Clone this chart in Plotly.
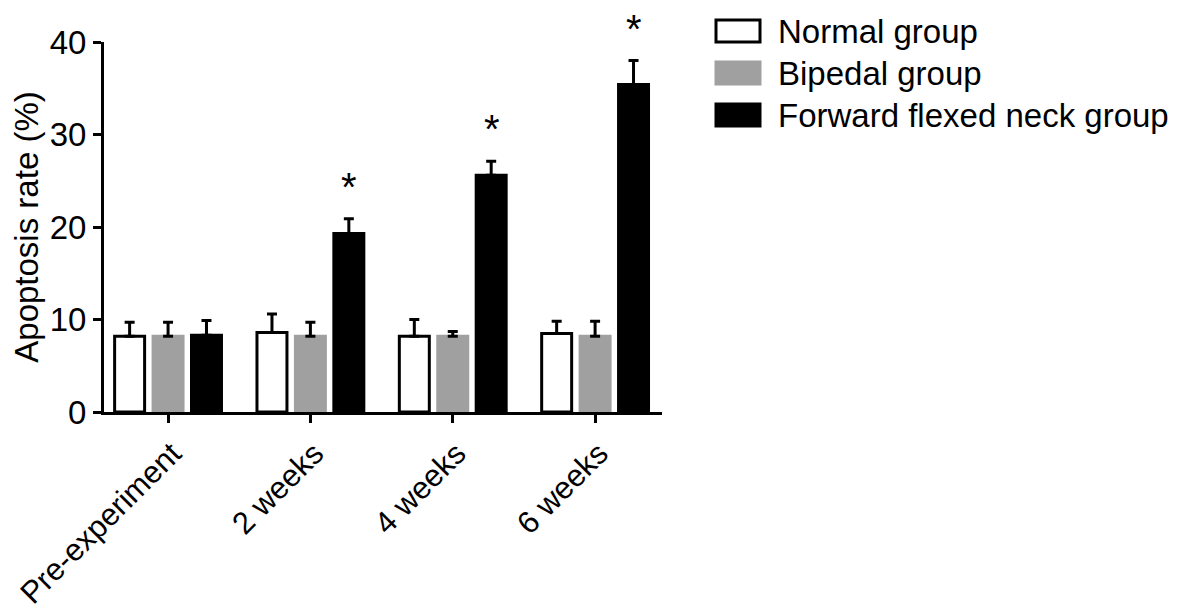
import plotly.graph_objects as go

categories = ["Pre-experiment", "2 weeks", "4 weeks", "6 weeks"]
normal_mean = [8.2, 8.6, 8.2, 8.5]
normal_err = [1.5, 2.0, 1.8, 1.3]
bipedal_mean = [8.2, 8.2, 8.2, 8.2]
bipedal_err = [1.5, 1.5, 0.5, 1.6]
forward_mean = [8.3, 19.3, 25.6, 35.4]
forward_err = [1.6, 1.6, 1.5, 2.6]
significant = [False, True, True, True]

legend_names = ["Normal group", "Bipedal group", "Forward flexed neck group"]
fills = ["white", "#A0A0A0", "black"]
lines = ["black", "#A0A0A0", "black"]

FONT = "Liberation Sans, Arial, sans-serif"
FS = 33

# page has an 8px body margin; plot area in page coords: x 104-662, y 42-412
W, H = 1173, 607
ML, MT = 96, 34
PW, PH = 558, 370

fig = go.Figure()
series = [(normal_mean, normal_err), (bipedal_mean, bipedal_err), (forward_mean, forward_err)]
for (m, e), name, fc, lc in zip(series, legend_names, fills, lines):
    fig.add_trace(go.Bar(
        x=categories, y=m, name=name,
        marker=dict(color=fc, line=dict(color=lc, width=3)),
        error_y=dict(type="data", array=e, arrayminus=[0] * len(e), symmetric=False,
                     color="black", thickness=3, width=5),
        showlegend=False,
    ))

for cat, m, e, s in zip(categories, forward_mean, forward_err, significant):
    if s:
        fig.add_annotation(x=cat, y=m + e, text="*", showarrow=False, xshift=39,
                           yanchor="bottom", yshift=9, borderpad=0,
                           font=dict(family=FONT, size=40, color="black"))

# manual legend (page coordinates converted to paper fractions)
leg_y = [31, 73, 115]
for yc, name, fc, lc in zip(leg_y, legend_names, fills, lines):
    fig.add_shape(type="rect", xref="paper", yref="paper",
                  x0=(716 - 104) / PW, x1=(760 - 104) / PW,
                  y0=(412 - (yc + 11)) / PH, y1=(412 - (yc - 11)) / PH,
                  fillcolor=fc, line=dict(color=lc, width=3))
    fig.add_annotation(xref="paper", yref="paper", x=(776 - 104) / PW, y=(412 - yc) / PH,
                       text=name, showarrow=False, xanchor="left", yanchor="middle",
                       font=dict(family=FONT, size=FS, color="black"))

fig.update_layout(
    width=W, height=H,
    margin=dict(l=ML, r=W - ML - PW, t=MT, b=H - MT - PH, autoexpand=False),
    paper_bgcolor="white", plot_bgcolor="white",
    barmode="group", bargap=0.19, bargroupgap=0.22,
    font=dict(family=FONT, size=FS, color="black"),
    xaxis=dict(range=[-0.45, 3.47], showline=True, linecolor="black", linewidth=3,
               ticks="outside", ticklen=8, tickwidth=3, tickcolor="black",
               tickangle=-45, showgrid=False, zeroline=False, automargin=False,
               ticklabelshift=4,
               tickfont=dict(family=FONT, size=31)),
    yaxis=dict(range=[0, 40], tickvals=[0, 10, 20, 30, 40], showline=True,
               linecolor="black", linewidth=3, ticks="outside", ticklen=8,
               tickwidth=3, tickcolor="black", showgrid=False, zeroline=False,
               automargin=False,
               title=dict(text="Apoptosis rate (%)", standoff=18,
                          font=dict(family=FONT, size=FS)),
               tickfont=dict(family=FONT, size=FS)),
)

fig.write_html("out.html")
